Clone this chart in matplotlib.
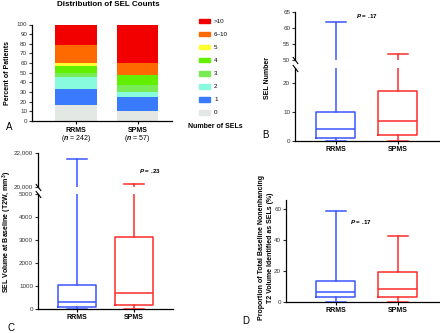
"""
SEL counts, numbers and volumes in RRMS vs SPMS (four-panel figure).
"""

import matplotlib
matplotlib.use("Agg")
import matplotlib.pyplot as plt
from matplotlib.patches import Patch

W, H = 440, 333

plt.rcParams["font.family"] = ["Liberation Sans", "DejaVu Sans"]
plt.rcParams["mathtext.fontset"] = "custom"
plt.rcParams["mathtext.rm"] = "Liberation Sans"
plt.rcParams["mathtext.it"] = "Liberation Sans:italic:bold"
plt.rcParams["mathtext.bf"] = "Liberation Sans:bold"

# ---- data -------------------------------------------------------------
groups = ["RRMS", "SPMS"]
group_n = [242, 57]
group_colors = ["#3a55ff", "#ff2b2b"]

sel_bins = ["0", "1", "2", "3", "4", "5", "6\u201310", ">10"]
bin_colors = ["#e4e8e4", "#3a7aff", "#88fbdf", "#78ec55", "#62f000",
              "#ffff30", "#ff6a00", "#f20000"]
rrms_pct = [16.5, 16.5, 12.8, 3.7, 7.4, 3.3, 19.0, 20.8]
spms_pct = [10.5, 14.0, 5.3, 7.0, 10.5, 0.0, 12.3, 40.4]

# box summaries: whislo, q1, median, q3, whishi
sel_number_rrms = [0, 1, 4, 10, 62]
sel_number_spms = [0, 2, 7, 17, 52]
sel_volume_rrms = [0, 70, 310, 1050, 21600]
sel_volume_spms = [0, 175, 710, 3120, 20150]
sel_prop_rrms = [0, 3.0, 6.5, 13.3, 59.0]
sel_prop_spms = [0, 3.0, 8.0, 19.4, 42.5]

p_number = ".17"
p_volume = ".23"
p_prop = ".17"


def rect(x0, y0, x1, y1):
    """Pixel box (top-left origin) -> figure fraction rect."""
    return [x0 / W, 1 - y1 / H, (x1 - x0) / W, (y1 - y0) / H]


def style_axes(ax, bottom=True):
    for side in ("top", "right"):
        ax.spines[side].set_visible(False)
    ax.spines["left"].set_linewidth(0.9)
    ax.spines["bottom"].set_linewidth(0.9)
    if not bottom:
        ax.spines["bottom"].set_visible(False)
        ax.tick_params(axis="x", bottom=False, labelbottom=False)
    ax.tick_params(direction="out", length=2.5, width=0.8, labelsize=4.5,
                   pad=1, colors="#333333")
    ax.tick_params(axis="x", labelsize=5, colors="black")


def draw_boxes(ax, summaries, width):
    for i, (vals, color) in enumerate(zip(summaries, group_colors)):
        lo, q1, med, q3, hi = vals
        stats = [dict(whislo=lo, q1=q1, med=med, q3=q3, whishi=hi, fliers=[])]
        lp = dict(color=color, linewidth=1.1)
        ax.bxp(stats, positions=[i], widths=width, showfliers=False,
               manage_ticks=False, boxprops=lp, whiskerprops=lp, capprops=lp,
               medianprops=lp, zorder=3)


def break_mark(ax, y):
    ax.plot([0], [y], transform=ax.transAxes, marker=[(-1, 1.3), (1, -1.3)],
            markersize=5, color="black", mew=0.8, clip_on=False)


def group_ticks(ax):
    ax.set_xticks([0, 1])
    ax.set_xticklabels(groups, fontweight="bold")


fig = plt.figure(figsize=(W / 100, H / 100), dpi=100)

# ---- A: stacked distribution -------------------------------------------
axA = fig.add_axes(rect(32, 24.5, 172, 121))
bottoms = [0.0, 0.0]
for k, label in enumerate(sel_bins):
    heights = [rrms_pct[k], spms_pct[k]]
    axA.bar([0, 1], heights, width=0.68, bottom=bottoms,
            color=bin_colors[k], linewidth=0, label=label)
    bottoms = [b + h for b, h in zip(bottoms, heights)]
axA.set_ylim(0, 100)
axA.set_xlim(-0.715, 1.56)
axA.set_yticks(range(0, 101, 10))
style_axes(axA)
axA.set_xticks([0, 1])
axA.set_xticklabels([])
for i, (g, n) in enumerate(zip(groups, group_n)):
    axA.annotate(g, xy=(i, 0), xycoords=("data", "axes fraction"),
                 xytext=(0, -6.5), textcoords="offset points",
                 ha="center", va="center", fontsize=5, fontweight="bold")
    axA.annotate(r"($n$ = %d)" % n, xy=(i, 0), xycoords=("data", "axes fraction"),
                 xytext=(0, -12.5), textcoords="offset points",
                 ha="center", va="center", fontsize=5)
handles = [Patch(color=c, label=l) for c, l in zip(bin_colors, sel_bins)][::-1]
fig.legend(handles=handles, loc="upper left",
           bbox_to_anchor=(199 / W, 1 - 18.5 / H), frameon=False, fontsize=4.5,
           handlelength=1.76, handleheight=0.8, handletextpad=0.65,
           labelspacing=1.2, borderpad=0, borderaxespad=0)
fig.text(215 / W, 1 - 126 / H, "Number of SELs", ha="center", va="center",
         fontsize=5, fontweight="bold")
fig.text(108 / W, 1 - 5 / H, "Distribution of SEL Counts", ha="center",
         va="center", fontsize=5.8, fontweight="bold")
fig.text(8 / W, 1 - 73 / H, "Percent of Patients", rotation=90, ha="center",
         va="center", fontsize=5, fontweight="bold")

# ---- B: SEL number (broken axis) ---------------------------------------
xlimB = (-0.66, 1.68)
axB_hi = fig.add_axes(rect(295, 12, 440, 60))
axB_lo = fig.add_axes(rect(295, 68, 440, 141))
for ax in (axB_hi, axB_lo):
    draw_boxes(ax, [sel_number_rrms, sel_number_spms], 0.63)
    ax.set_xlim(*xlimB)
axB_hi.set_ylim(50, 65)
axB_hi.set_yticks([50, 55, 60, 65])
axB_lo.set_ylim(0, 25)
axB_lo.set_yticks([0, 10, 20])
style_axes(axB_hi, bottom=False)
style_axes(axB_lo)
group_ticks(axB_lo)
break_mark(axB_hi, 0)
break_mark(axB_lo, 1)
fig.text(367 / W, 1 - 15.5 / H, r"$P$ = " + p_number, ha="center",
         va="center", fontsize=4.5, fontweight="bold")
fig.text(267.5 / W, 1 - 78 / H, "SEL Number", rotation=90, ha="center",
         va="center", fontsize=5, fontweight="bold")

# ---- C: SEL volume (broken axis) ---------------------------------------
xlimC = (-0.684, 1.684)
axC_hi = fig.add_axes(rect(38, 152.7, 173, 186.7))
axC_lo = fig.add_axes(rect(38, 194.3, 173, 309))
for ax in (axC_hi, axC_lo):
    draw_boxes(ax, [sel_volume_rrms, sel_volume_spms], 0.68)
    ax.set_xlim(*xlimC)
axC_hi.set_ylim(20000, 22000)
axC_hi.set_yticks([20000, 22000])
axC_hi.set_yticklabels(["20,000", "22,000"])
axC_lo.set_ylim(0, 5000)
axC_lo.set_yticks(range(0, 5001, 1000))
style_axes(axC_hi, bottom=False)
style_axes(axC_lo)
group_ticks(axC_lo)
break_mark(axC_hi, 0)
break_mark(axC_lo, 1)
fig.text(149.5 / W, 1 - 171 / H, r"$P$ = " + p_volume, ha="center",
         va="center", fontsize=4.5, fontweight="bold")
fig.text(7.5 / W, 1 - 232 / H, r"SEL Volume at Baseline (T2W, mm$^\mathbf{3}$)",
         rotation=90, ha="center", va="center", fontsize=5, fontweight="bold")

# ---- D: proportion of T2 volume ----------------------------------------
axD = fig.add_axes(rect(286, 200, 440, 301.7))
draw_boxes(axD, [sel_prop_rrms, sel_prop_spms], 0.63)
axD.set_xlim(-0.806, 1.68)
axD.set_ylim(0, 65.8)
axD.set_yticks([0, 20, 40, 60])
style_axes(axD)
group_ticks(axD)
fig.text(361 / W, 1 - 221.5 / H, r"$P$ = " + p_prop, ha="center",
         va="center", fontsize=4.5, fontweight="bold")
fig.text(266 / W, 1 - 248 / H,
         "Proportion of Total Baseline Nonenhancing\n"
         "T2 Volume Identified as SELs (%)",
         rotation=90, ha="center", va="center", fontsize=5,
         fontweight="bold", multialignment="center", linespacing=1.3)

# ---- panel letters -----------------------------------------------------
for letter, x, y in [("A", 9, 126.5), ("B", 265.5, 135.5),
                     ("C", 11, 328), ("D", 245.5, 321)]:
    fig.text(x / W, 1 - y / H, letter, ha="center", va="center", fontsize=7)

fig.savefig("out.png", dpi=100)
